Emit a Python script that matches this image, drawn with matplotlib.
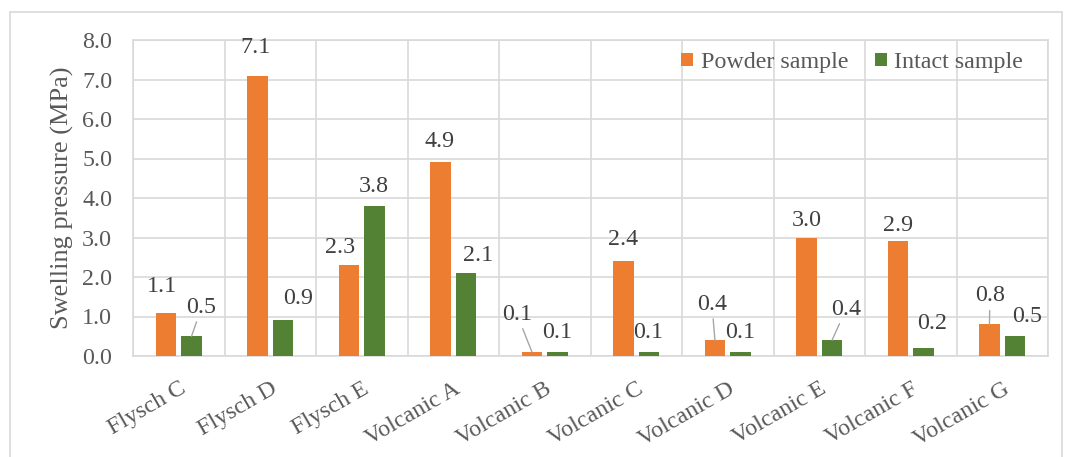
import matplotlib
matplotlib.use("Agg")
import matplotlib.pyplot as plt
from matplotlib.ticker import FormatStrFormatter, MultipleLocator
from matplotlib.patches import Rectangle
import numpy as np

# ---- data ----
categories = ["Flysch C", "Flysch D", "Flysch E", "Volcanic A", "Volcanic B",
              "Volcanic C", "Volcanic D", "Volcanic E", "Volcanic F", "Volcanic G"]
powder = [1.1, 7.1, 2.3, 4.9, 0.1, 2.4, 0.4, 3.0, 2.9, 0.8]
intact = [0.5, 0.9, 3.8, 2.1, 0.1, 0.1, 0.1, 0.4, 0.2, 0.5]
series_names = ["Powder sample", "Intact sample"]

# ---- layout (label offsets in pixels from bar top centre; leader flags) ----
powder_off = [(-4.5, 26.5), (-1.5, 28.5), (-9, 18), (-0.5, 20.5), (-15, 38),
              (-0.5, 22), (-3, 36), (0.5, 16.5), (0, 15.5), (0.5, 28.5)]
powder_leader = [False, False, False, False, True, False, True, False, False, True]
intact_off = [(10, 29), (15, 21.5), (-1, 19), (12, 18), (-0.5, 20),
              (-0.5, 20), (-0.5, 20), (14, 31), (8.5, 25), (12.5, 20)]
intact_leader = [True, False, False, False, False, False, False, True, False, False]

ORANGE = "#ED7D31"
GREEN = "#548235"
GRID = "#D9D9D9"
TXT = "#595959"
LBL = "#404040"
FS = 17.3

plt.rcParams['font.family'] = ['Liberation Serif', 'DejaVu Serif']

W, H, DPI = 1067, 457, 100
fig = plt.figure(figsize=(W / DPI, H / DPI), dpi=DPI)
ax = fig.add_axes([133 / W, 1 - 356 / H, (1048 - 133) / W, (356 - 40) / H])

# outer frame
fig.patches.append(Rectangle((10 / W, -0.05), (1062 - 10) / W, 1 - 12 / H + 0.05,
                             transform=fig.transFigure, fill=False,
                             edgecolor=GRID, linewidth=1.2))

x = np.arange(len(categories))
bw = 0.22
off = 0.14
ax.bar(x - off, powder, bw, color=ORANGE, label=series_names[0], zorder=3)
ax.bar(x + off, intact, bw, color=GREEN, label=series_names[1], zorder=3)

ax.set_xlim(-0.5, len(categories) - 0.5)
ax.set_ylim(0, 8)
ax.yaxis.set_major_locator(MultipleLocator(1.0))
ax.yaxis.set_major_formatter(FormatStrFormatter('%.1f'))
ax.set_xticks(x)
ax.set_xticks(np.arange(-0.5, len(categories), 1.0), minor=True)
ax.set_xticklabels(categories, rotation=30, ha='right', rotation_mode='anchor',
                   fontsize=FS, color=TXT)
ax.tick_params(axis='x', which='both', length=0, pad=16)
ax.tick_params(axis='y', length=0, pad=15, labelsize=FS, labelcolor=TXT)
ax.grid(True, axis='y', which='major', color=GRID, linewidth=1.2, zorder=0)
ax.grid(True, axis='x', which='minor', color=GRID, linewidth=1.2, zorder=0)
ax.grid(False, axis='x', which='major')
for s in ax.spines.values():
    s.set_color(GRID)
    s.set_linewidth(1.2)
ax.set_axisbelow(True)

ax.set_ylabel("Swelling pressure (MPa)", fontsize=19, color=TXT, labelpad=6)

px2pt = 72 / DPI

def add_labels(xs, vals, offs, leaders):
    for xi, v, (dx, dy), ld in zip(xs, vals, offs, leaders):
        kw = {}
        if ld:
            kw['arrowprops'] = dict(arrowstyle='-', color='#A6A6A6', lw=1.0,
                                    shrinkA=1, shrinkB=0)
        ax.annotate(f"{v:.1f}", xy=(xi, v), xytext=(dx * px2pt, dy * px2pt),
                    textcoords='offset points', ha='center', va='center',
                    fontsize=FS, color=LBL, zorder=5, **kw)

add_labels(x - off, powder, powder_off, powder_leader)
add_labels(x + off, intact, intact_off, intact_leader)

ax.legend(loc='upper right', ncol=2, frameon=False, fontsize=FS,
          handlelength=0.5, handleheight=0.5, handletextpad=0.3,
          columnspacing=1.1, bbox_to_anchor=(0.988, 1.008),
          labelcolor=TXT, borderaxespad=0.2)

fig.savefig("out.png", dpi=DPI)
